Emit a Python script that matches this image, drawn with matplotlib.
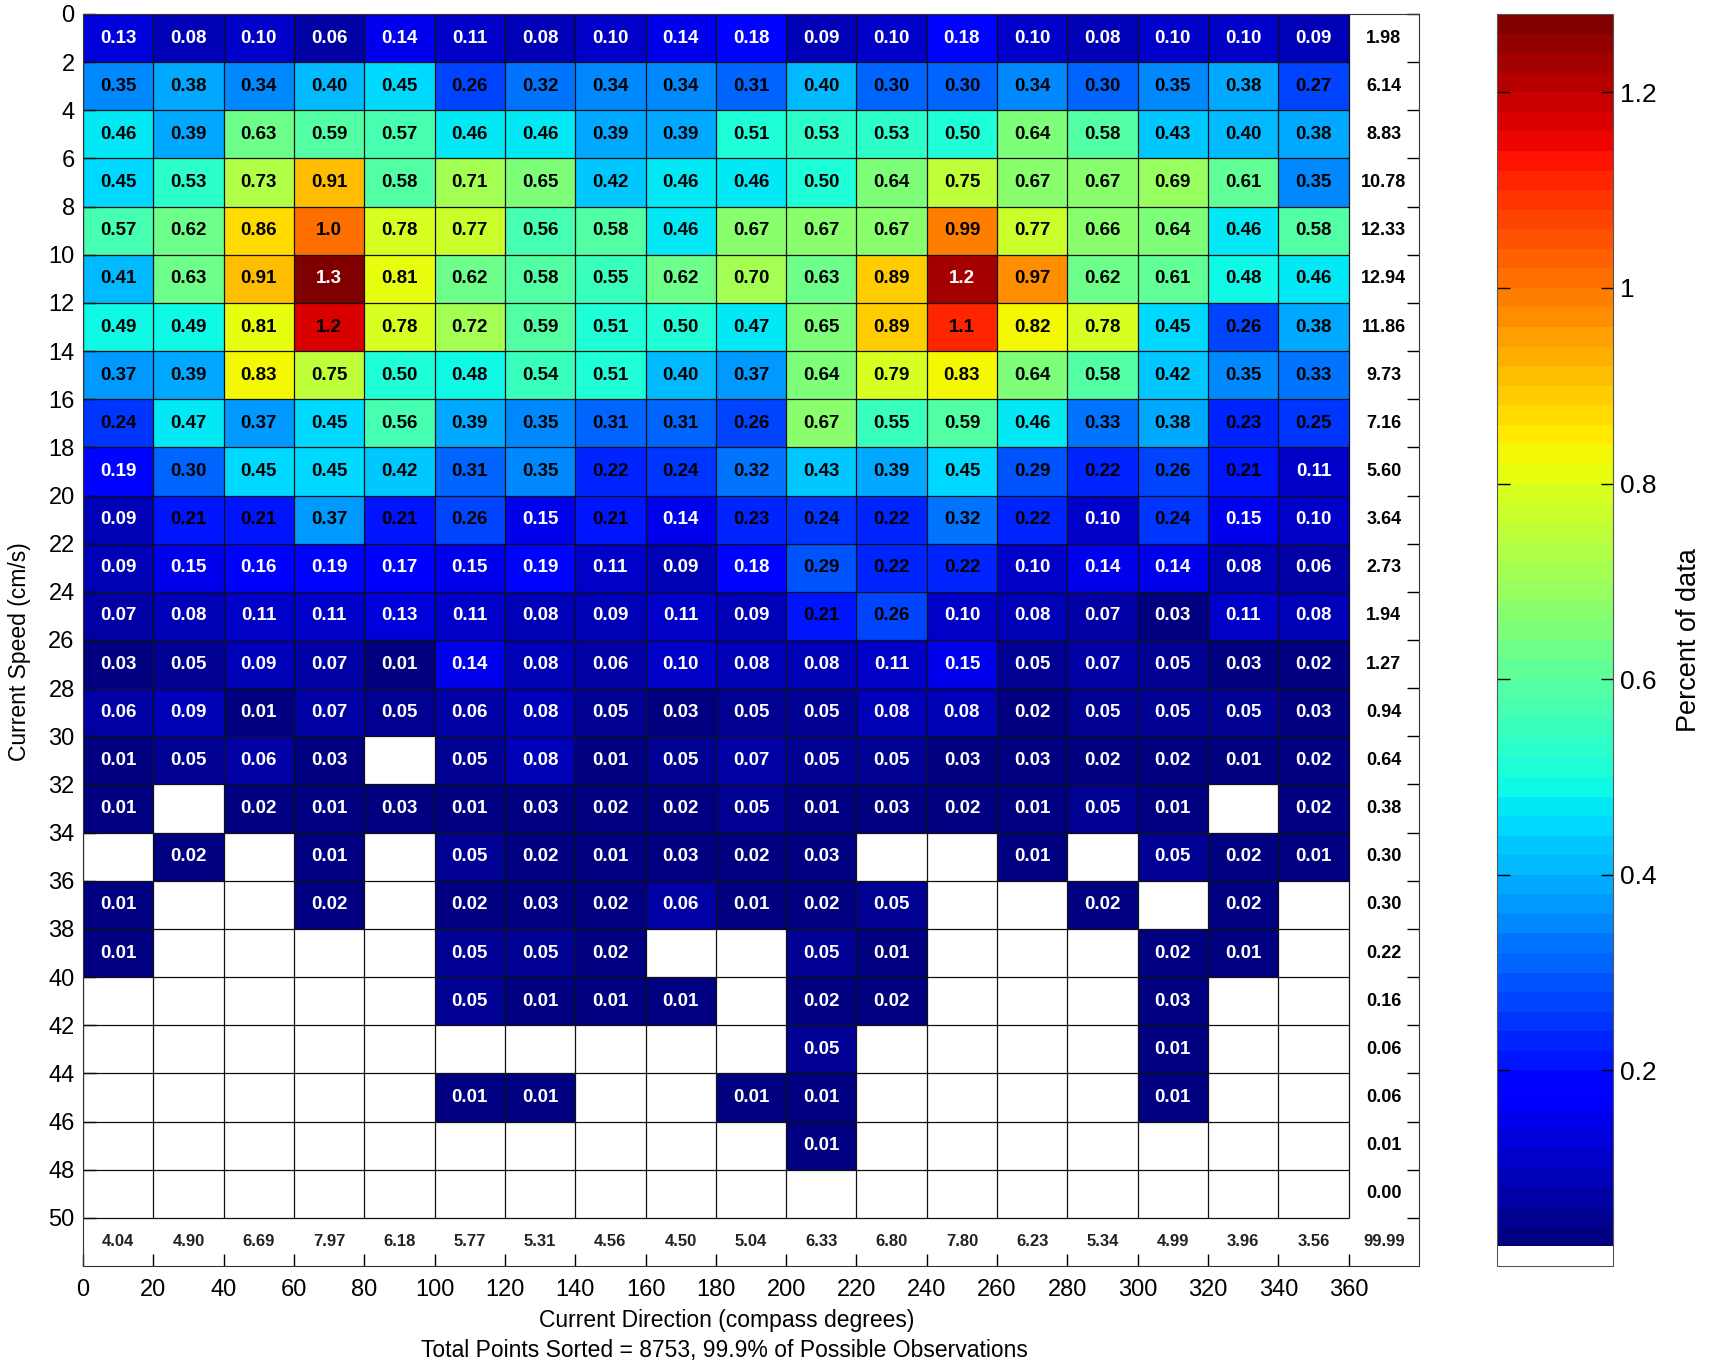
import numpy as np
import matplotlib
matplotlib.use("Agg")
import matplotlib.pyplot as plt
from matplotlib.colors import ListedColormap, Normalize
from matplotlib.cm import ScalarMappable

plt.rcParams['font.family'] = ['Liberation Sans', 'DejaVu Sans']

# bins: direction (deg) and speed (cm/s)
dir_edges = np.arange(0, 361, 20)
speed_edges = np.arange(0, 51, 2)

n = np.nan
# percent of data per cell, rows = speed bins 0-2 ... 48-50, cols = direction bins 0-20 ... 340-360
pct = [
    [0.13, 0.08, 0.10, 0.06, 0.14, 0.11, 0.08, 0.10, 0.14, 0.18, 0.09, 0.10, 0.18, 0.10, 0.08, 0.10, 0.10, 0.09],
    [0.35, 0.38, 0.34, 0.40, 0.45, 0.26, 0.32, 0.34, 0.34, 0.31, 0.40, 0.30, 0.30, 0.34, 0.30, 0.35, 0.38, 0.27],
    [0.46, 0.39, 0.63, 0.59, 0.57, 0.46, 0.46, 0.39, 0.39, 0.51, 0.53, 0.53, 0.50, 0.64, 0.58, 0.43, 0.40, 0.38],
    [0.45, 0.53, 0.73, 0.91, 0.58, 0.71, 0.65, 0.42, 0.46, 0.46, 0.50, 0.64, 0.75, 0.67, 0.67, 0.69, 0.61, 0.35],
    [0.57, 0.62, 0.86, 1.00, 0.78, 0.77, 0.56, 0.58, 0.46, 0.67, 0.67, 0.67, 0.99, 0.77, 0.66, 0.64, 0.46, 0.58],
    [0.41, 0.63, 0.91, 1.27, 0.81, 0.62, 0.58, 0.55, 0.62, 0.70, 0.63, 0.89, 1.22, 0.97, 0.62, 0.61, 0.48, 0.46],
    [0.49, 0.49, 0.81, 1.17, 0.78, 0.72, 0.59, 0.51, 0.50, 0.47, 0.65, 0.89, 1.10, 0.82, 0.78, 0.45, 0.26, 0.38],
    [0.37, 0.39, 0.83, 0.75, 0.50, 0.48, 0.54, 0.51, 0.40, 0.37, 0.64, 0.79, 0.83, 0.64, 0.58, 0.42, 0.35, 0.33],
    [0.24, 0.47, 0.37, 0.45, 0.56, 0.39, 0.35, 0.31, 0.31, 0.26, 0.67, 0.55, 0.59, 0.46, 0.33, 0.38, 0.23, 0.25],
    [0.19, 0.30, 0.45, 0.45, 0.42, 0.31, 0.35, 0.22, 0.24, 0.32, 0.43, 0.39, 0.45, 0.29, 0.22, 0.26, 0.21, 0.11],
    [0.09, 0.21, 0.21, 0.37, 0.21, 0.26, 0.15, 0.21, 0.14, 0.23, 0.24, 0.22, 0.32, 0.22, 0.10, 0.24, 0.15, 0.10],
    [0.09, 0.15, 0.16, 0.19, 0.17, 0.15, 0.19, 0.11, 0.09, 0.18, 0.29, 0.22, 0.22, 0.10, 0.14, 0.14, 0.08, 0.06],
    [0.07, 0.08, 0.11, 0.11, 0.13, 0.11, 0.08, 0.09, 0.11, 0.09, 0.21, 0.26, 0.10, 0.08, 0.07, 0.03, 0.11, 0.08],
    [0.03, 0.05, 0.09, 0.07, 0.01, 0.14, 0.08, 0.06, 0.10, 0.08, 0.08, 0.11, 0.15, 0.05, 0.07, 0.05, 0.03, 0.02],
    [0.06, 0.09, 0.01, 0.07, 0.05, 0.06, 0.08, 0.05, 0.03, 0.05, 0.05, 0.08, 0.08, 0.02, 0.05, 0.05, 0.05, 0.03],
    [0.01, 0.05, 0.06, 0.03, n,    0.05, 0.08, 0.01, 0.05, 0.07, 0.05, 0.05, 0.03, 0.03, 0.02, 0.02, 0.01, 0.02],
    [0.01, n,    0.02, 0.01, 0.03, 0.01, 0.03, 0.02, 0.02, 0.05, 0.01, 0.03, 0.02, 0.01, 0.05, 0.01, n,    0.02],
    [n,    0.02, n,    0.01, n,    0.05, 0.02, 0.01, 0.03, 0.02, 0.03, n,    n,    0.01, n,    0.05, 0.02, 0.01],
    [0.01, n,    n,    0.02, n,    0.02, 0.03, 0.02, 0.06, 0.01, 0.02, 0.05, n,    n,    0.02, n,    0.02, n],
    [0.01, n,    n,    n,    n,    0.05, 0.05, 0.02, n,    n,    0.05, 0.01, n,    n,    n,    0.02, 0.01, n],
    [n,    n,    n,    n,    n,    0.05, 0.01, 0.01, 0.01, n,    0.02, 0.02, n,    n,    n,    0.03, n,    n],
    [n,    n,    n,    n,    n,    n,    n,    n,    n,    n,    0.05, n,    n,    n,    n,    0.01, n,    n],
    [n,    n,    n,    n,    n,    0.01, 0.01, n,    n,    0.01, 0.01, n,    n,    n,    n,    0.01, n,    n],
    [n,    n,    n,    n,    n,    n,    n,    n,    n,    n,    0.01, n,    n,    n,    n,    n,    n,    n],
    [n] * 18,
]

row_totals = [1.98, 6.14, 8.83, 10.78, 12.33, 12.94, 11.86, 9.73, 7.16, 5.60, 3.64, 2.73, 1.94,
              1.27, 0.94, 0.64, 0.38, 0.30, 0.30, 0.22, 0.16, 0.06, 0.06, 0.01, 0.00]
col_totals = [4.04, 4.90, 6.69, 7.97, 6.18, 5.77, 5.31, 4.56, 4.50, 5.04, 6.33, 6.80, 7.80,
              6.23, 5.34, 4.99, 3.96, 3.56]
grand_total = 99.99

vmax = 1.28
jet63 = plt.get_cmap('jet')(np.linspace(0, 1, 63))
cmap = ListedColormap(jet63)
cmap.set_under(jet63[0])
cmap.set_bad('white')
norm = Normalize(0.02, vmax)

cb_cmap = ListedColormap(np.vstack([[1, 1, 1, 1], jet63]))
cb_norm = Normalize(0, vmax)

W, H = 1711, 1364
fig = plt.figure(figsize=(W / 100, H / 100), dpi=100)
ax = fig.add_axes([83 / W, 1 - 1266 / H, 1336 / W, 1252 / H])

data = np.ma.masked_invalid(np.array(pct, dtype=float))
ax.pcolormesh(dir_edges, speed_edges, data, cmap=cmap, norm=norm,
              edgecolors='none')
ax.vlines(dir_edges, 0, 50, colors='#111111', linewidth=0.9, zorder=2)
ax.hlines(speed_edges, 0, 360, colors='#111111', linewidth=0.9, zorder=2)

xc = (dir_edges[:-1] + dir_edges[1:]) / 2
yc = (speed_edges[:-1] + speed_edges[1:]) / 2
for i, y in enumerate(yc):
    for j, x in enumerate(xc):
        v = data[i, j]
        if np.ma.is_masked(v):
            continue
        txt = f"{v:.1f}" if v >= 0.995 else f"{v:.2f}"
        col = 'white' if (v < 0.2 or v >= 1.2) else 'black'
        ax.text(x, y, txt, ha='center', va='center', fontsize=13.5,
                fontweight='bold', color=col, zorder=3)
    ax.text(370, y, f"{row_totals[i]:.2f}", ha='center', va='center',
            fontsize=13, fontweight='bold', zorder=3)

for j, x in enumerate(xc):
    ax.text(x, 51, f"{col_totals[j]:.2f}", ha='center', va='center', fontsize=12,
            fontweight='bold', color='#222222', zorder=3)
ax.text(370, 51, f"{grand_total:.2f}", ha='center', va='center', fontsize=12,
        fontweight='bold', color='#222222', zorder=3)

ax.set_xlim(0, 380)
ax.set_ylim(52, 0)
ax.set_xticks(dir_edges)
ax.set_yticks(speed_edges)
ax.tick_params(axis='both', direction='in', length=9, width=1, top=False, right=True,
               labelsize=17)
ax.tick_params(axis='x', pad=9)
ax.tick_params(axis='y', pad=6)
for s in ax.spines.values():
    s.set_color('#333333')

fig.text(727 / W, 1 - 1320 / H, "Current Direction (compass degrees)",
         ha='center', va='center', fontsize=16.5)
fig.text(724 / W, 1 - 1350 / H, "Total Points Sorted = 8753, 99.9% of Possible Observations",
         ha='center', va='center', fontsize=16.5)
fig.text(20 / W, 1 - 652 / H, "Current Speed (cm/s)", rotation=90,
         ha='center', va='center', fontsize=16.5)

cax = fig.add_axes([1497 / W, 1 - 1266 / H, 116 / W, 1252 / H])
cb = fig.colorbar(ScalarMappable(norm=cb_norm, cmap=cb_cmap), cax=cax,
                  ticks=[0.2, 0.4, 0.6, 0.8, 1.0, 1.2])
cb.ax.set_yticklabels(['0.2', '0.4', '0.6', '0.8', '1', '1.2'])
cb.ax.tick_params(direction='in', length=9, width=1, left=True, right=True,
                  labelsize=19, pad=5)
cb.outline.set_edgecolor('#555555')
cb.set_label("Percent of data", fontsize=19.5, labelpad=14)

fig.savefig("out.png", dpi=100)
